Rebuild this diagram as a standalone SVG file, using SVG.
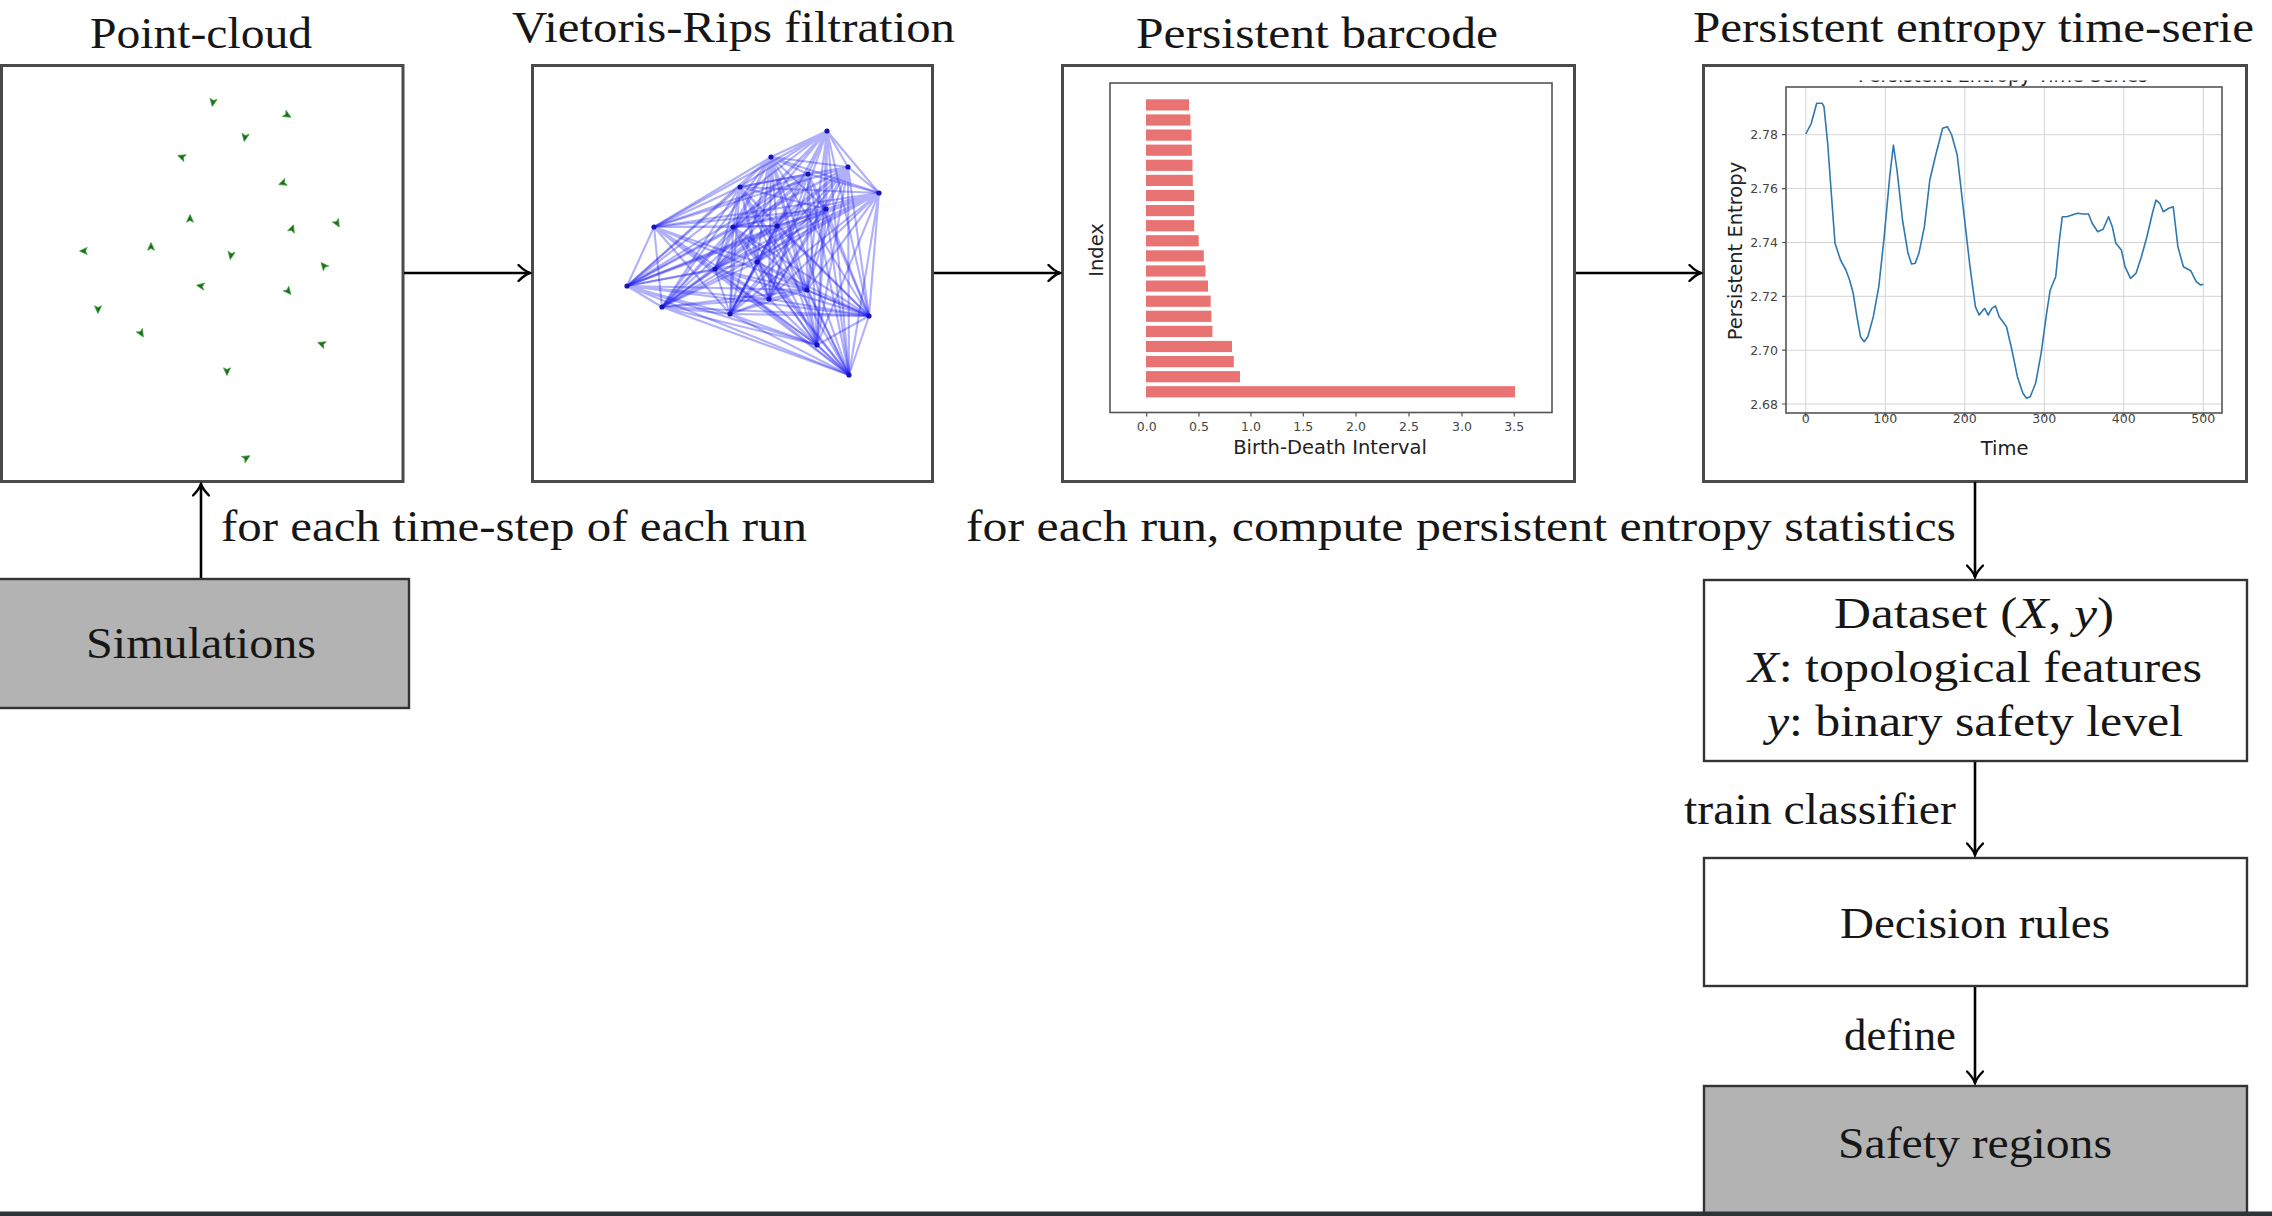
<svg xmlns="http://www.w3.org/2000/svg" width="2272" height="1216" viewBox="0 0 2272 1216">
<style>
.tx{font-family:"Liberation Serif","Times New Roman",serif;font-size:45px;fill:#161616}
.it{font-style:italic}
.frame{fill:#fff;stroke:#4a4a4a;stroke-width:3}
.box{fill:#fff;stroke:#333;stroke-width:2.4}
.gbox{fill:#b3b3b3;stroke:#333;stroke-width:2.4}
.conn{fill:none;stroke:#000;stroke-width:2.6}
.ax{font-family:"DejaVu Sans",sans-serif;font-size:19.5px;fill:#222}
.tk{font-family:"DejaVu Sans",sans-serif;font-size:12.5px;fill:#444}
.spine{fill:none;stroke:#555;stroke-width:1.6}
.grid{stroke:#d4d4d4;stroke-width:1}
.vr{fill:none;stroke:#2424f5;stroke-opacity:0.36;stroke-width:2.1}
.bar{fill:#e87373}
.pt{fill:#1c6a1c;stroke:#3f9f3f;stroke-width:0.8}
</style>
<defs>
<marker id="ah" markerUnits="userSpaceOnUse" viewBox="-13 -9 15 18" markerWidth="15" markerHeight="18" refX="0" refY="0" orient="auto">
<path d="M-11.5,-8 C-7,-3.5 -3,-1 0,0 C-3,1 -7,3.5 -11.5,8" fill="none" stroke="#000" stroke-width="2.4" stroke-linecap="round"/>
</marker>
<path id="pm" d="M4.5,0 L-3.2,-3.5 L-1.4,0 L-3.2,3.5 Z"/>
<clipPath id="ttlclip"><rect x="1800" y="80.5" width="400" height="6"/></clipPath>
</defs>

<!-- Point-cloud -->
<g id="node-pointcloud">
<text class="tx" x="90" y="48" textLength="222" lengthAdjust="spacingAndGlyphs">Point-cloud</text>
<rect class="frame" x="1.5" y="65.5" width="401.5" height="416"/>
<g class="pt">
<use href="#pm" transform="translate(213,102) rotate(100)"/>
<use href="#pm" transform="translate(287,115) rotate(30)"/>
<use href="#pm" transform="translate(245,137) rotate(100)"/>
<use href="#pm" transform="translate(182,157) rotate(200)"/>
<use href="#pm" transform="translate(283,183) rotate(160)"/>
<use href="#pm" transform="translate(190,219) rotate(-90)"/>
<use href="#pm" transform="translate(292,229) rotate(-70)"/>
<use href="#pm" transform="translate(337,223) rotate(60)"/>
<use href="#pm" transform="translate(84,251) rotate(180)"/>
<use href="#pm" transform="translate(151,247) rotate(-90)"/>
<use href="#pm" transform="translate(231,255) rotate(100)"/>
<use href="#pm" transform="translate(324,266) rotate(230)"/>
<use href="#pm" transform="translate(201,286) rotate(190)"/>
<use href="#pm" transform="translate(288,291) rotate(50)"/>
<use href="#pm" transform="translate(98,309) rotate(90)"/>
<use href="#pm" transform="translate(141,333) rotate(60)"/>
<use href="#pm" transform="translate(322,344) rotate(200)"/>
<use href="#pm" transform="translate(227,371) rotate(90)"/>
<use href="#pm" transform="translate(246,458) rotate(-30)"/>
</g>
</g>

<!-- Vietoris-Rips -->
<g id="node-vietoris">
<text class="tx" x="512" y="42" textLength="443" lengthAdjust="spacingAndGlyphs">Vietoris-Rips filtration</text>
<rect class="frame" x="532.5" y="65.5" width="400" height="416"/>
<g class="vr">
<path d="M827,131L771,157M827,131L848,167M827,131L808,174M827,131L740,187M827,131L879,193M827,131L826,209M827,131L654,227M827,131L733,227M827,131L777,226M827,131L757,262M827,131L715,269M827,131L627,286M827,131L807,290M827,131L769,299M827,131L662,307M827,131L730,314M827,131L869,316M827,131L817,345M827,131L849,375"/>
<path d="M771,157L848,167M771,157L808,174M771,157L740,187M771,157L879,193M771,157L826,209M771,157L654,227M771,157L733,227M771,157L777,226M771,157L757,262M771,157L715,269M771,157L627,286M771,157L807,290M771,157L769,299M771,157L662,307M771,157L730,314M771,157L869,316M771,157L817,345M771,157L849,375"/>
<path d="M848,167L808,174M848,167L740,187M848,167L879,193M848,167L826,209M848,167L654,227M848,167L733,227M848,167L777,226M848,167L757,262M848,167L715,269M848,167L627,286M848,167L807,290M848,167L769,299M848,167L662,307M848,167L730,314M848,167L869,316M848,167L817,345M848,167L849,375"/>
<path d="M808,174L740,187M808,174L879,193M808,174L826,209M808,174L654,227M808,174L733,227M808,174L777,226M808,174L757,262M808,174L715,269M808,174L627,286M808,174L807,290M808,174L769,299M808,174L662,307M808,174L730,314M808,174L869,316M808,174L817,345M808,174L849,375"/>
<path d="M740,187L879,193M740,187L826,209M740,187L654,227M740,187L733,227M740,187L777,226M740,187L757,262M740,187L715,269M740,187L627,286M740,187L807,290M740,187L769,299M740,187L662,307M740,187L730,314M740,187L869,316M740,187L817,345M740,187L849,375"/>
<path d="M879,193L826,209M879,193L654,227M879,193L733,227M879,193L777,226M879,193L757,262M879,193L715,269M879,193L627,286M879,193L807,290M879,193L769,299M879,193L662,307M879,193L730,314M879,193L869,316M879,193L817,345M879,193L849,375"/>
<path d="M826,209L654,227M826,209L733,227M826,209L777,226M826,209L757,262M826,209L715,269M826,209L627,286M826,209L807,290M826,209L769,299M826,209L662,307M826,209L730,314M826,209L869,316M826,209L817,345M826,209L849,375"/>
<path d="M654,227L733,227M654,227L777,226M654,227L757,262M654,227L715,269M654,227L627,286M654,227L807,290M654,227L769,299M654,227L662,307M654,227L730,314M654,227L869,316M654,227L817,345M654,227L849,375"/>
<path d="M733,227L777,226M733,227L757,262M733,227L715,269M733,227L627,286M733,227L807,290M733,227L769,299M733,227L662,307M733,227L730,314M733,227L869,316M733,227L817,345M733,227L849,375"/>
<path d="M777,226L757,262M777,226L715,269M777,226L627,286M777,226L807,290M777,226L769,299M777,226L662,307M777,226L730,314M777,226L869,316M777,226L817,345M777,226L849,375"/>
<path d="M757,262L715,269M757,262L627,286M757,262L807,290M757,262L769,299M757,262L662,307M757,262L730,314M757,262L869,316M757,262L817,345M757,262L849,375"/>
<path d="M715,269L627,286M715,269L807,290M715,269L769,299M715,269L662,307M715,269L730,314M715,269L869,316M715,269L817,345M715,269L849,375"/>
<path d="M627,286L807,290M627,286L769,299M627,286L662,307M627,286L730,314M627,286L869,316M627,286L817,345M627,286L849,375"/>
<path d="M807,290L769,299M807,290L662,307M807,290L730,314M807,290L869,316M807,290L817,345M807,290L849,375"/>
<path d="M769,299L662,307M769,299L730,314M769,299L869,316M769,299L817,345M769,299L849,375"/>
<path d="M662,307L730,314M662,307L869,316M662,307L817,345M662,307L849,375"/>
<path d="M730,314L869,316M730,314L817,345M730,314L849,375"/>
<path d="M869,316L817,345M869,316L849,375"/>
<path d="M817,345L849,375"/>
</g>
<g fill="#1414b8">
<circle cx="827" cy="131" r="2.6"/><circle cx="771" cy="157" r="2.6"/><circle cx="848" cy="167" r="2.6"/><circle cx="808" cy="174" r="2.6"/><circle cx="740" cy="187" r="2.6"/><circle cx="879" cy="193" r="2.6"/><circle cx="826" cy="209" r="2.6"/><circle cx="654" cy="227" r="2.6"/><circle cx="733" cy="227" r="2.6"/><circle cx="777" cy="226" r="2.6"/><circle cx="757" cy="262" r="2.6"/><circle cx="715" cy="269" r="2.6"/><circle cx="627" cy="286" r="2.6"/><circle cx="807" cy="290" r="2.6"/><circle cx="769" cy="299" r="2.6"/><circle cx="662" cy="307" r="2.6"/><circle cx="730" cy="314" r="2.6"/><circle cx="869" cy="316" r="2.6"/><circle cx="817" cy="345" r="2.6"/><circle cx="849" cy="375" r="2.6"/>
</g>
</g>

<!-- Persistent barcode -->
<g id="node-barcode">
<text class="tx" x="1136" y="48" textLength="362" lengthAdjust="spacingAndGlyphs">Persistent barcode</text>
<rect class="frame" x="1062.5" y="65.5" width="512" height="416"/>
<g class="bar">
<rect x="1146" y="99.3" width="43" height="11.2"/>
<rect x="1146" y="114.4" width="44.4" height="11.2"/>
<rect x="1146" y="129.5" width="45.5" height="11.2"/>
<rect x="1146" y="144.6" width="45.8" height="11.2"/>
<rect x="1146" y="159.7" width="46.5" height="11.2"/>
<rect x="1146" y="174.8" width="46.8" height="11.2"/>
<rect x="1146" y="189.9" width="48.2" height="11.2"/>
<rect x="1146" y="205.0" width="48.2" height="11.2"/>
<rect x="1146" y="220.1" width="48.2" height="11.2"/>
<rect x="1146" y="235.2" width="52.7" height="11.2"/>
<rect x="1146" y="250.3" width="57.8" height="11.2"/>
<rect x="1146" y="265.4" width="59.5" height="11.2"/>
<rect x="1146" y="280.5" width="62" height="11.2"/>
<rect x="1146" y="295.6" width="64.7" height="11.2"/>
<rect x="1146" y="310.7" width="65.4" height="11.2"/>
<rect x="1146" y="325.8" width="66.4" height="11.2"/>
<rect x="1146" y="340.9" width="86" height="11.2"/>
<rect x="1146" y="356.0" width="87.8" height="11.2"/>
<rect x="1146" y="371.1" width="94" height="11.2"/>
<rect x="1146" y="386.2" width="369" height="11.2"/>
</g>
<rect class="spine" x="1110" y="83" width="442" height="329.5"/>
<path stroke="#555" stroke-width="1.2" d="M1146.7,412.5v4M1199,412.5v4M1251,412.5v4M1303.3,412.5v4M1356,412.5v4M1409,412.5v4M1462,412.5v4M1514.3,412.5v4"/>
<g class="tk" text-anchor="middle">
<text x="1146.7" y="431">0.0</text><text x="1199" y="431">0.5</text><text x="1251" y="431">1.0</text><text x="1303.3" y="431">1.5</text><text x="1356" y="431">2.0</text><text x="1409" y="431">2.5</text><text x="1462" y="431">3.0</text><text x="1514.3" y="431">3.5</text>
</g>
<text class="ax" x="1330" y="454" text-anchor="middle">Birth-Death Interval</text>
<text class="ax" text-anchor="middle" transform="translate(1103,250) rotate(-90)">Index</text>
</g>

<!-- Persistent entropy time-series -->
<g id="node-entropy">
<text class="tx" x="1693" y="42" textLength="561" lengthAdjust="spacingAndGlyphs">Persistent entropy time-serie</text>
<rect class="frame" x="1703.5" y="65.5" width="543" height="416"/>
<text class="ax" x="2003" y="82" text-anchor="middle" fill="#666" clip-path="url(#ttlclip)" textLength="290" lengthAdjust="spacingAndGlyphs">Persistent Entropy Time Series</text>
<g class="grid">
<path d="M1805.8,87V413M1885.3,87V413M1964.8,87V413M2044.3,87V413M2123.8,87V413M2203.3,87V413"/>
<path d="M1786,134.7H2222M1786,188.6H2222M1786,242.5H2222M1786,296.3H2222M1786,350.2H2222M1786,404H2222"/>
</g>
<path fill="none" stroke="#2f78b0" stroke-width="1.6" stroke-linejoin="round" d="M1805.8,134 L1811.3,123.3 L1816.7,103.3 L1822.2,103.3 L1824,106.7 L1827.7,143.3 L1831.3,193.3 L1835,243.3 L1840.5,260 L1845.9,270 L1849.6,280 L1853.2,293.3 L1856.9,316.7 L1860.5,336.7 L1864.2,341.7 L1867.8,336.7 L1873.3,316.7 L1878.8,286.7 L1884.2,236.7 L1889.7,176.7 L1893.4,145 L1897,170 L1902.5,220 L1908,253.3 L1911.6,264 L1915.2,263.3 L1918.9,253.3 L1924.4,226.7 L1929.8,180 L1935.3,156.7 L1942.6,128.3 L1947.4,126.7 L1951.7,135 L1957.2,155 L1962.7,203.3 L1970,266.7 L1975.4,306.7 L1979.1,315 L1984.6,308.3 L1988.2,315 L1991.9,308.3 L1995.5,306 L1999.2,316.7 L2006.5,326.7 L2011.9,350 L2017.4,376.7 L2022.9,393.3 L2026.5,398.3 L2030.2,396.7 L2035.6,383.3 L2041.1,353.3 L2046.6,313.3 L2050.2,290 L2055.7,276.7 L2059.4,240 L2062.3,216.7 L2066.7,216.7 L2072.1,215 L2077.6,213.3 L2083.1,214 L2088.5,214 L2092.2,223.3 L2097.7,231.7 L2103.1,229.3 L2108.6,216.7 L2112.3,226.7 L2115.9,243.3 L2121.4,250 L2125,266.7 L2130.5,278.3 L2136,273.3 L2141.4,256.7 L2146.9,236.7 L2152.4,213.3 L2156,200 L2159.7,203.3 L2163.3,211.7 L2168.8,208.3 L2173.2,206.7 L2177.9,246.7 L2183.4,266.7 L2190.7,270.7 L2196.2,281.7 L2200.6,285 L2203.5,284.3"/>
<rect class="spine" x="1786" y="87" width="436" height="326"/>
<path stroke="#555" stroke-width="1.2" d="M1805.8,413v4M1885.3,413v4M1964.8,413v4M2044.3,413v4M2123.8,413v4M2203.3,413v4M1786,134.7h-4M1786,188.6h-4M1786,242.5h-4M1786,296.3h-4M1786,350.2h-4M1786,404h-4"/>
<g class="tk" text-anchor="middle">
<text x="1805.8" y="423">0</text><text x="1885.3" y="423">100</text><text x="1964.8" y="423">200</text><text x="2044.3" y="423">300</text><text x="2123.8" y="423">400</text><text x="2203.3" y="423">500</text>
</g>
<g class="tk" text-anchor="end">
<text x="1778" y="139">2.78</text><text x="1778" y="193">2.76</text><text x="1778" y="247">2.74</text><text x="1778" y="301">2.72</text><text x="1778" y="354.5">2.70</text><text x="1778" y="408.5">2.68</text>
</g>
<text class="ax" x="2004.6" y="455" text-anchor="middle">Time</text>
<text class="ax" text-anchor="middle" transform="translate(1742,251) rotate(-90)">Persistent Entropy</text>
</g>

<!-- Simulations -->
<g id="node-simulations">
<rect class="gbox" x="-10" y="579" width="419" height="129"/>
<text class="tx" x="86" y="658" textLength="230" lengthAdjust="spacingAndGlyphs">Simulations</text>
</g>

<!-- Dataset -->
<g id="node-dataset">
<rect class="box" x="1704" y="580" width="543" height="181"/>
<text class="tx" x="1834" y="628" textLength="280" lengthAdjust="spacingAndGlyphs">Dataset (<tspan class="it">X</tspan>, <tspan class="it">y</tspan>)</text>
<text class="tx" x="1748" y="682" textLength="454" lengthAdjust="spacingAndGlyphs"><tspan class="it">X</tspan>:  topological features</text>
<text class="tx" x="1767" y="736" textLength="416" lengthAdjust="spacingAndGlyphs"><tspan class="it">y</tspan>:  binary safety level</text>
</g>

<!-- Decision rules -->
<g id="node-decision">
<rect class="box" x="1704" y="858" width="543" height="128"/>
<text class="tx" x="1840" y="938" textLength="270" lengthAdjust="spacingAndGlyphs">Decision rules</text>
</g>

<!-- Safety regions -->
<g id="node-safety">
<rect class="gbox" x="1704" y="1086" width="543" height="135"/>
<text class="tx" x="1838" y="1158" textLength="274" lengthAdjust="spacingAndGlyphs">Safety regions</text>
</g>

<!-- Connectors -->
<g id="connectors">
<path class="conn" marker-end="url(#ah)" d="M404,273H530"/>
<path class="conn" marker-end="url(#ah)" d="M934,273H1060"/>
<path class="conn" marker-end="url(#ah)" d="M1576,273H1701"/>
<path class="conn" marker-end="url(#ah)" d="M201,578V484"/>
<path class="conn" marker-end="url(#ah)" d="M1975,482V577"/>
<path class="conn" marker-end="url(#ah)" d="M1975,762V855"/>
<path class="conn" marker-end="url(#ah)" d="M1975,987V1083"/>
<text class="tx" x="221" y="541" textLength="586" lengthAdjust="spacingAndGlyphs">for each time-step of each run</text>
<text class="tx" x="966" y="541" textLength="990" lengthAdjust="spacingAndGlyphs">for each run, compute persistent entropy statistics</text>
<text class="tx" x="1684" y="824" textLength="272" lengthAdjust="spacingAndGlyphs">train classifier</text>
<text class="tx" x="1844" y="1050" textLength="112" lengthAdjust="spacingAndGlyphs">define</text>
</g>

<rect x="0" y="1211.5" width="2272" height="4.5" fill="#2f3537"/>
</svg>
